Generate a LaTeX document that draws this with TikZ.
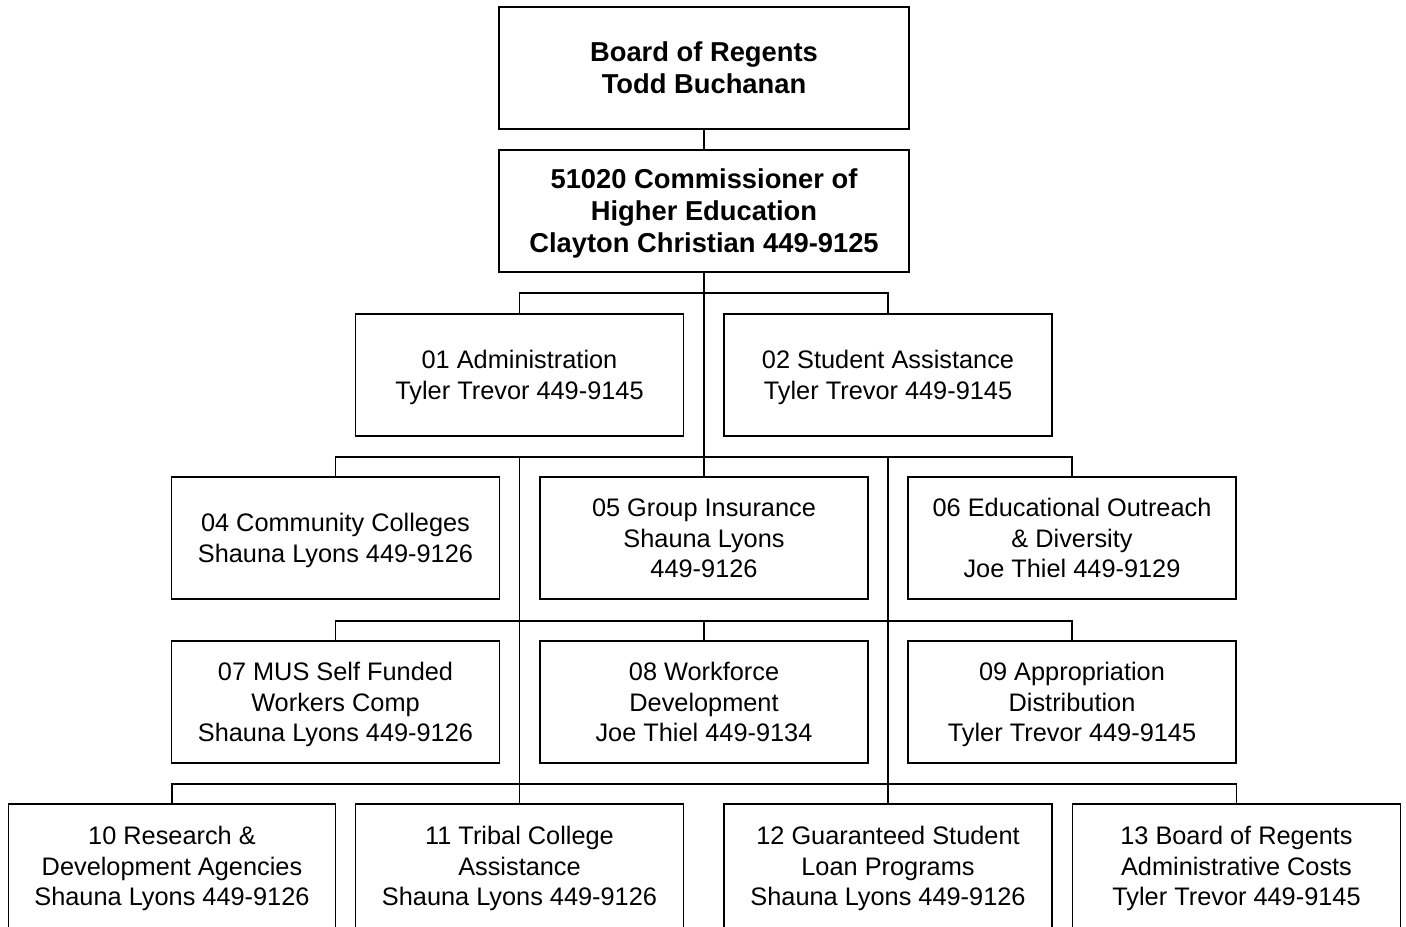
\documentclass[tikz,border=0pt]{standalone}
\usepackage{fontspec}
\setmainfont{Liberation Sans}
\newcommand{\Tz}{\rule{0pt}{0.98em}}
\newcommand{\Ez}{\rule[-0.265em]{0pt}{0pt}}
\begin{document}
\begin{tikzpicture}[x=0.75pt,y=-0.75pt,
  box/.style={draw=black,line width=1pt,fill=white,align=center,inner sep=0pt,
    minimum width=#1*0.75pt,minimum height=122*0.75pt,
    font=\fontsize{19pt}{22.7pt}\selectfont},
  box/.default=328,
  topbox/.style={box=410,font=\fontsize{20.5pt}{24pt}\selectfont\bfseries},
  lastbox/.style={box=#1,minimum height=124*0.75pt},
  lastbox/.default=328,
  conn/.style={draw=black,line width=1pt}]
\useasboundingbox (0,0) rectangle (1406,926);
\clip (0,0) rectangle (1406,926);
\node[topbox] (bor) at (704,68) {\Tz Board of Regents\\Todd Buchanan\Ez};
\node[topbox] (com) at (704,211) {\Tz 51020 Commissioner of\\Higher Education\\Clayton Christian 449-9125\Ez};
\node[box] (a01) at (519.5,375) {\Tz 01 Administration\\Tyler Trevor 449-9145\Ez};
\node[box] (a02) at (888,375) {\Tz 02 Student Assistance\\Tyler Trevor 449-9145\Ez};
\node[box] (a04) at (335.5,538) {\Tz 04 Community Colleges\\Shauna Lyons 449-9126\Ez};
\node[box] (a05) at (704,538) {\Tz 05 Group Insurance\\Shauna Lyons\\449-9126\Ez};
\node[box] (a06) at (1072,538) {\Tz 06 Educational Outreach\\\& Diversity\\Joe Thiel 449-9129\Ez};
\node[box] (a07) at (335.5,702) {\Tz 07 MUS Self Funded\\Workers Comp\\Shauna Lyons 449-9126\Ez};
\node[box] (a08) at (704,702) {\Tz 08 Workforce\\Development\\Joe Thiel 449-9134\Ez};
\node[box] (a09) at (1072,702) {\Tz 09 Appropriation\\Distribution\\Tyler Trevor 449-9145\Ez};
\node[lastbox=327] (a10) at (172,866) {\Tz 10 Research \&\\Development Agencies\\Shauna Lyons 449-9126\Ez};
\node[lastbox] (a11) at (519.5,866) {\Tz 11 Tribal College\\Assistance\\Shauna Lyons 449-9126\Ez};
\node[lastbox] (a12) at (888,866) {\Tz 12 Guaranteed Student\\Loan Programs\\Shauna Lyons 449-9126\Ez};
\node[lastbox] (a13) at (1236.5,866) {\Tz 13 Board of Regents\\Administrative Costs\\Tyler Trevor 449-9145\Ez};
\coordinate (h1) at (704,293);
\coordinate (h2) at (704,457);
\coordinate (h3) at (704,621);
\coordinate (h4) at (704,784);
\draw[conn] (bor.south) -- (com.north);
\draw[conn] (com.south) -- (a05.north);
\draw[conn] (a01.north) |- (h1) -| (a02.north);
\draw[conn] (a04.north) |- (h2) -| (a06.north);
\draw[conn] (a11.north) -- (a11.north |- h2);
\draw[conn] (a12.north) -- (a12.north |- h2);
\draw[conn] (a07.north) |- (h3) -| (a09.north);
\draw[conn] (a08.north) -- (a08.north |- h3);
\draw[conn] (a10.north) |- (h4) -| (a13.north);
\end{tikzpicture}
\end{document}
